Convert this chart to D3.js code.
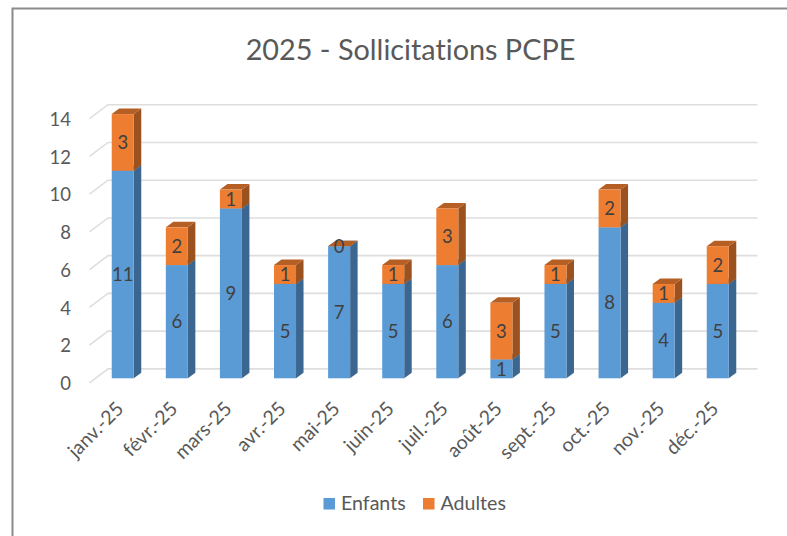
<!DOCTYPE html>
<html>
<head>
<meta charset="utf-8">
<script src="https://cdnjs.cloudflare.com/ajax/libs/d3/7.8.5/d3.min.js"></script>
<style>
  html, body { margin: 0; padding: 0; background: #fff; }
  svg { display: block; }
  text { font-family: Lato, "Open Sans", sans-serif; font-variant-ligatures: none; }
</style>
</head>
<body>
<div id="chart"></div>
<script>
var months = ["janv.-25", "févr.-25", "mars-25", "avr.-25", "mai-25", "juin-25", "juil.-25", "août-25", "sept.-25", "oct.-25", "nov.-25", "déc.-25"];
var enfants = [11, 6, 9, 5, 7, 5, 6, 1, 5, 8, 4, 5];
var adultes = [3, 2, 1, 1, 0, 1, 3, 3, 1, 2, 1, 2];
var yTicks = [0, 2, 4, 6, 8, 10, 12, 14];
var seriesNames = ["Enfants", "Adultes"];
var chartTitle = "2025 - Sollicitations PCPE";

var width = 787, height = 536;

var svg = d3.select("#chart").append("svg")
    .attr("width", width)
    .attr("height", height);

//frame of the pasted chart, only left and top are visible
svg.append("path")
    .attr("d", "M12.5," + height + "V8.5H" + width)
    .attr("fill", "none")
    .attr("stroke", "#8a8a8a")
    .attr("stroke-width", 2);

svg.append("text")
    .text(chartTitle)
    .attr("x", 410.5)
    .attr("y", 60)
    .attr("text-anchor", "middle")
    .attr("fill", "#595959")
    .style("font-size", "28.8px");

var x = d3.scaleBand()
    .domain(months)
    .range([95.7, 744.8])
    .paddingInner(0.593)
    .paddingOuter(0.2965);

var y = d3.scaleLinear()
    .domain([0, 14])
    .range([378.3, 114.1]);

//offset of the 3D walls and of the bar depth
var floorDx = 18.5, floorDy = -14;
var barDx = 7.5, barDy = -5.5;
var wallLeft = 89.5, wallRight = 757.5;

//gridlines: diagonal on the side wall, then across the back wall
svg.append("g").selectAll("path")
    .data(yTicks)
    .enter()
    .append("path")
    .attr("d", function(d) {
        var y0 = y(d) + 4.6;
        return "M" + wallLeft + "," + y0 + "l" + floorDx + "," + floorDy + "H" + wallRight;
    })
    .attr("fill", "none")
    .attr("stroke", "#dedede")
    .attr("stroke-width", 1.6);

//y labels through the axis generator
var yAxis = d3.axisLeft(y)
    .tickValues(yTicks)
    .tickSize(0)
    .tickPadding(0);

var yAxisG = svg.append("g")
    .attr("transform", "translate(71,0)")
    .call(yAxis);
yAxisG.select(".domain").remove();
yAxisG.selectAll("text")
    .attr("fill", "#595959")
    .attr("dy", "0.36em")
    .attr("y", 4.6)
    .style("font-size", "18.5px")
    .style("font-family", "Lato, 'Open Sans', sans-serif");

var stackData = months.map(function(m, i) {
    return {month: m, enfants: enfants[i], adultes: adultes[i]};
});
var stacked = d3.stack().keys(["enfants", "adultes"])(stackData);

var colors = [
    {front: "#5b9bd5", side: "#3a6690", top: "#43729e"},
    {front: "#ed7d31", side: "#9c521f", top: "#b55f25"}
];

stacked.forEach(function(series, s) {
    var g = svg.append("g").selectAll("g")
        .data(series)
        .enter()
        .append("g");

    g.append("path")
        .attr("fill", colors[s].side)
        .attr("d", function(d) {
            var xr = x(d.data.month) + x.bandwidth();
            return "M" + xr + "," + y(d[0]) + "l" + barDx + "," + barDy +
                "V" + (y(d[1]) + barDy) + "l" + (-barDx) + "," + (-barDy) + "Z";
        });

    g.append("path")
        .attr("fill", colors[s].top)
        .attr("d", function(d) {
            var xl = x(d.data.month);
            return "M" + xl + "," + y(d[1]) + "l" + barDx + "," + barDy +
                "h" + x.bandwidth() + "l" + (-barDx) + "," + (-barDy) + "Z";
        });

    g.append("rect")
        .attr("x", function(d) { return x(d.data.month); })
        .attr("y", function(d) { return y(d[1]); })
        .attr("width", x.bandwidth())
        .attr("height", function(d) { return y(d[0]) - y(d[1]); })
        .attr("fill", colors[s].front);
});

//data labels go over all the bars
stacked.forEach(function(series) {
    svg.append("g").selectAll("text")
        .data(series)
        .enter()
        .append("text")
        .text(function(d) { return d[1] - d[0]; })
        .attr("x", function(d) { return x(d.data.month) + x.bandwidth() / 2; })
        .attr("y", function(d) { return y((d[0] + d[1]) / 2); })
        .attr("dy", "0.36em")
        .attr("text-anchor", "middle")
        .attr("fill", "#404040")
        .style("font-size", "18.5px");
});

//rotated month labels
svg.append("g").selectAll("text")
    .data(months)
    .enter()
    .append("text")
    .text(function(d) { return d; })
    .attr("transform", function(d) {
        return "translate(" + (x(d) + x.bandwidth() / 2 - 3) + ",405) rotate(-45)";
    })
    .attr("text-anchor", "end")
    .attr("dy", "0.36em")
    .attr("fill", "#595959")
    .style("font-size", "19.5px");

//legend
var legendX = [323.5, 423];
var legend = svg.append("g").selectAll("g")
    .data(seriesNames)
    .enter()
    .append("g")
    .attr("transform", function(d, i) { return "translate(" + legendX[i] + ",498)"; });

legend.append("rect")
    .attr("width", 11.5)
    .attr("height", 11.5)
    .attr("fill", function(d, i) { return colors[i].front; });

legend.append("text")
    .text(function(d) { return d; })
    .attr("x", 17.5)
    .attr("y", 12)
    .attr("fill", "#595959")
    .style("font-size", "19.6px");
</script>
</body>
</html>
